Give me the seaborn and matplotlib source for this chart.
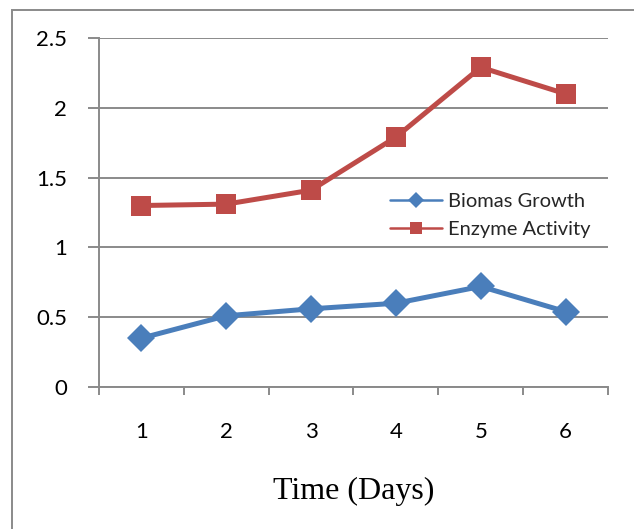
import matplotlib
matplotlib.use("Agg")
import matplotlib.pyplot as plt
import seaborn as sns
import pandas as pd
import numpy as np
from matplotlib.ticker import FixedLocator, FuncFormatter
from matplotlib.patches import Rectangle
from matplotlib.lines import Line2D

days = [1, 2, 3, 4, 5, 6]
biomas_growth = [0.35, 0.51, 0.56, 0.60, 0.72, 0.54]
enzyme_activity = [1.30, 1.31, 1.41, 1.79, 2.29, 2.10]
series_names = ["Biomas Growth", "Enzyme Activity"]
x_label = "Time (Days)"
y_ticks = [0, 0.5, 1, 1.5, 2, 2.5]

df = pd.DataFrame({
    "day": days * 2,
    "value": biomas_growth + enzyme_activity,
    "series": [series_names[0]] * len(days) + [series_names[1]] * len(days),
})

sns.set_theme(style="white")
plt.rcParams["font.family"] = ["Lato", "DejaVu Sans"]

fig = plt.figure(figsize=(6.34, 5.29), dpi=100)
ax = fig.add_axes([99 / 634, 1 - 387 / 529, (608 - 99) / 634, (387 - 38) / 529])

grey = "#8a8a8a"
palette = {series_names[0]: "#4A7EBB", series_names[1]: "#BE4B48"}
sns.lineplot(data=df, x="day", y="value", hue="series", style="series",
             markers={series_names[0]: "D", series_names[1]: "s"},
             dashes=False, palette=palette, linewidth=3.6, markersize=14,
             markeredgewidth=0, ax=ax, legend=False, zorder=3)

ax.set_xlim(0.5, 6.5)
ax.set_ylim(0, 2.5)
ax.yaxis.set_major_locator(FixedLocator(y_ticks))
ax.yaxis.set_major_formatter(FuncFormatter(lambda v, p: f"{v:g}"))
ax.yaxis.grid(True, color=grey, linewidth=1.4)
ax.xaxis.grid(False)

ax.xaxis.set_major_locator(FixedLocator(np.arange(0.5, 7, 1)))
ax.xaxis.set_major_formatter(FuncFormatter(lambda v, p: ""))
ax.xaxis.set_minor_locator(FixedLocator(days))
ax.xaxis.set_minor_formatter(FuncFormatter(lambda v, p: f"{int(round(v))}"))
ax.tick_params(axis="x", which="major", direction="out", length=6, width=1.4,
               color=grey, bottom=True)
ax.tick_params(axis="x", which="minor", length=0, pad=25, labelsize=16,
               labelcolor="black", bottom=True)
ax.tick_params(axis="y", which="major", direction="out", length=8, width=1.4,
               color=grey, pad=15, labelsize=16, labelcolor="black", left=True)

for s in ["top", "right"]:
    ax.spines[s].set_visible(False)
for s in ["left", "bottom"]:
    ax.spines[s].set_color(grey)
    ax.spines[s].set_linewidth(1.4)

ax.set_xlabel(x_label, family=["Liberation Serif"], fontsize=23, labelpad=25,
              color="black")
ax.set_ylabel("")

handles = [
    Line2D([], [], color=palette[series_names[0]], marker="D", markersize=8,
           linewidth=1.8, markeredgewidth=0),
    Line2D([], [], color=palette[series_names[1]], marker="s", markersize=8,
           linewidth=1.8, markeredgewidth=0),
]
ax.legend(handles, series_names, frameon=False, fontsize=14.5,
          loc="upper left", bbox_to_anchor=((386 - 99) / 509, (387 - 189) / 349),
          handlelength=2.6, handletextpad=0.3, labelspacing=0.55,
          borderaxespad=0, borderpad=0.2)

fig.patches.append(Rectangle((12 / 634, -0.1), 1.2, 1 - 10 / 529 + 0.1,
                             transform=fig.transFigure, fill=False,
                             edgecolor=grey, linewidth=1.4))

fig.savefig("out.png", dpi=100)
